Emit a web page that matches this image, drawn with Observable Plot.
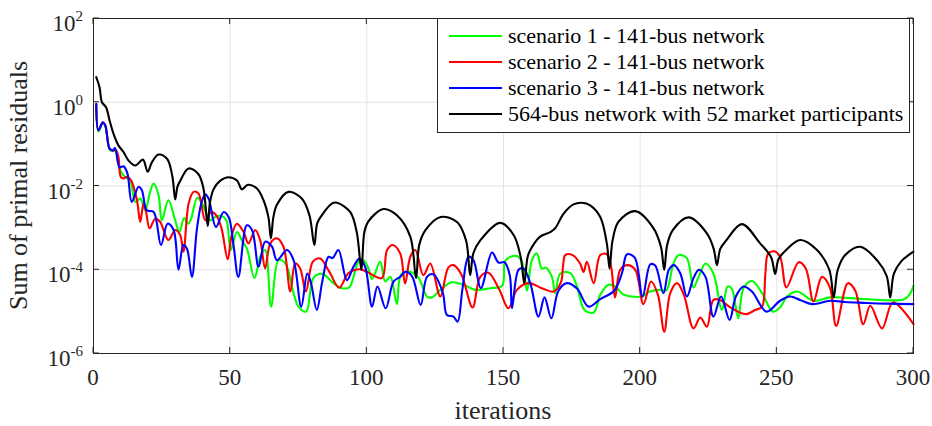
<!DOCTYPE html>
<html><head><meta charset="utf-8">
<script src="https://cdn.jsdelivr.net/npm/d3@7"></script>
<script src="https://cdn.jsdelivr.net/npm/@observablehq/plot@0.6"></script>
<style>body{margin:0;background:#fff} svg{display:block}</style>
</head><body><div id="chart"></div>
<script>
const seriesNames = ["scenario 1 - 141-bus network","scenario 2 - 141-bus network","scenario 3 - 141-bus network","564-bus network with 52 market participants"];
const seriesColors = ["#00ff00","#ff0000","#0000ff","#000000"];
const xTicks = [0,50,100,150,200,250,300];
const yTickExponents = [2,0,-2,-4,-6];
const xLabel = "iterations";
const yLabel = "Sum of primal residuals";

// [iteration, log10(sum of primal residuals)]
const scenario1_log10 = [[1,-0.04],[1.8,-0.7],[3.4,-0.5],[4.3,-0.57],[5.9,-1.13],[7.1,-1.17],[7.9,-1.15],[9.8,-1.63],[11.6,-1.79],[13.4,-1.86],[15.3,-2.38],[17.1,-2.3],[18.9,-2.58],[20.7,-2.14],[22,-1.94],[23.8,-2.22],[25,-2.82],[27.4,-2.34],[29.9,-2.82],[31.4,-3.1],[33.2,-2.76],[34.6,-2.9],[35.6,-2.8],[38,-2.28],[40,-2.45],[42.7,-2.82],[45,-2.72],[47.6,-2.74],[48.8,-2.85],[50.2,-3.53],[52.5,-3.1],[54.3,-3.3],[56.1,-3.49],[58.9,-4.2],[61,-3.69],[62.8,-3.53],[65,-4.88],[67.7,-3.77],[70.2,-3.85],[73.2,-4.56],[75,-4.88],[77.8,-5.0],[80.5,-4.19],[83.8,-4.1],[87.8,-4.32],[90.9,-4.44],[93.6,-4.42],[97,-3.8],[98.8,-3.77],[100.6,-3.97],[101.9,-4.22],[104.9,-3.81],[106.7,-4.28],[108.6,-4.17],[111,-4.82],[112.5,-4.12],[115.9,-4.05],[119,-4.2],[122,-4.64],[123.8,-4.66],[126.9,-4.48],[131.1,-4.3],[135.4,-4.36],[139.7,-4.48],[145.2,-4.44],[149.5,-4.38],[150.8,-3.77],[154.9,-3.67],[156.7,-3.81],[158.6,-4.5],[160.4,-3.77],[162.2,-3.61],[164,-3.97],[165.5,-3.95],[167.7,-4.17],[168.9,-4.56],[170.8,-4.09],[174.4,-4.08],[176.9,-4.4],[179.6,-4.96],[183,-5.02],[185.4,-4.6],[188.4,-4.36],[190.9,-4.4],[193.6,-4.58],[197,-4.64],[200.6,-4.64],[203.5,-4.52],[207.4,-4.48],[209.5,-4.5],[212.2,-3.85],[214.1,-3.65],[217.1,-3.73],[219.5,-4.42],[221.4,-4.17],[223.9,-3.85],[226.8,-4.09],[229.9,-4.96],[232,-4.4],[233.5,-4.45],[235.9,-5.16],[237.8,-4.44],[240.9,-4.27],[244.6,-4.56],[248.5,-5.0],[251.2,-4.9],[253.7,-4.64],[257.4,-4.52],[263.4,-4.74],[269.6,-4.66],[281.7,-4.7],[296.3,-4.71],[298.5,-4.6],[300,-4.38]];

const scenario2_log10 = [[1,-0.04],[1.8,-0.67],[3.4,-0.48],[4.3,-0.55],[5.9,-1.11],[7.1,-1.15],[8.2,-1.15],[9.1,-1.3],[10,-1.79],[11,-1.82],[12.2,-1.78],[13.7,-1.86],[15.9,-2.34],[17.1,-2.86],[18.3,-2.42],[19.2,-2.6],[20.5,-3.01],[22.6,-2.78],[24.4,-2.86],[27.4,-3.29],[29.9,-3.05],[31.7,-3.17],[32.9,-3.57],[34.8,-2.42],[36.6,-2.14],[38.4,-2.18],[40.9,-2.82],[43,-2.62],[44.9,-2.7],[46.8,-3.0],[49.1,-3.75],[50.6,-3.17],[52.5,-2.9],[54.9,-3.1],[56.7,-3.37],[59.2,-3.05],[61,-3.3],[62.8,-3.97],[64.7,-3.37],[67.1,-3.25],[69.5,-3.45],[72,-4.52],[73.8,-3.85],[75.6,-3.97],[77.7,-4.52],[80.3,-3.8],[82.9,-3.73],[86.3,-4.05],[89.9,-4.43],[93.3,-4.08],[97.6,-3.99],[100,-4.05],[105.5,-4.2],[107.4,-3.53],[109.5,-3.41],[112.2,-3.61],[114,-4.33],[115.9,-3.69],[117.7,-3.53],[120.7,-4.13],[123.2,-3.85],[126.9,-4.64],[129.8,-3.95],[131.7,-3.89],[134.5,-4.1],[138.7,-4.9],[141.5,-4.17],[144.5,-4.07],[148.5,-4.48],[151.8,-4.92],[154.9,-4.48],[159.2,-4.32],[164,-4.44],[168.3,-4.52],[171,-4.3],[171.8,-3.9],[172.6,-3.65],[175.3,-3.65],[178,-3.85],[179.3,-4.05],[180.5,-3.81],[183,-4.32],[185.4,-3.65],[187.8,-3.63],[189.3,-3.9],[190.8,-4.66],[192.7,-4.0],[195.2,-3.89],[198.2,-4.0],[201.2,-4.82],[204,-4.28],[206.5,-4.6],[208.8,-5.48],[211,-4.56],[213.5,-4.32],[216,-4.6],[219.5,-5.4],[222,-5.14],[224.4,-5.36],[226.8,-4.72],[229.3,-4.72],[233,-4.9],[238.6,-5.06],[242.1,-4.96],[244.6,-4.88],[245.8,-4.1],[246.8,-3.62],[249,-3.56],[251.2,-3.69],[253.5,-4.42],[258,-3.82],[260.6,-3.97],[263.4,-4.76],[266.5,-4.17],[269.4,-4.42],[271.7,-5.34],[276,-4.32],[278.7,-4.5],[281.6,-5.3],[284.2,-4.86],[288.5,-5.4],[292.5,-4.78],[300,-5.3]];

const scenario3_log10 = [[1,-0.04],[1.8,-0.67],[3.4,-0.48],[4.3,-0.55],[5.9,-1.11],[7.1,-1.15],[7.9,-1.09],[9.5,-1.55],[11,-1.53],[12.4,-1.7],[14,-2.38],[16.5,-2.02],[17.7,-2.1],[19.5,-2.58],[22,-2.62],[24.7,-3.41],[27.1,-2.9],[29.3,-3.05],[31.1,-4.0],[32.9,-3.41],[34.2,-3.5],[36,-4.17],[37.8,-3.05],[39.5,-2.4],[40.9,-2.2],[42.1,-2.3],[44.8,-2.98],[47.6,-2.62],[49.5,-2.75],[51.2,-3.4],[53,-4.17],[56.1,-2.94],[58,-3.05],[60.4,-3.93],[62.8,-3.33],[65.3,-3.45],[67.1,-3.77],[70.8,-3.53],[73.2,-3.77],[76,-4.88],[78.2,-4.09],[79.5,-4.3],[81.7,-4.96],[83.7,-4.28],[86,-3.69],[87.5,-3.72],[89.6,-3.53],[92.7,-4.25],[95.1,-3.93],[97.3,-3.73],[99.4,-3.93],[101.9,-4.88],[103.9,-4.4],[106.9,-4.92],[109.8,-4.28],[112.2,-4.17],[114,-4.05],[116.5,-4.15],[119.7,-4.84],[122,-4.17],[124.4,-4.11],[127.8,-4.55],[129.3,-5.08],[131.7,-5.12],[133.2,-5.24],[135,-4.45],[137.2,-3.69],[139,-3.77],[141.7,-4.44],[145.8,-3.59],[148.2,-3.83],[150.3,-3.82],[152.3,-4.13],[153.1,-4.92],[155.5,-4.0],[157.3,-3.97],[159.8,-4.32],[162.8,-5.12],[165,-4.66],[167.5,-5.16],[170.1,-4.5],[173.2,-4.32],[176.9,-4.45],[181.1,-4.88],[185.4,-4.7],[190.5,-4.5],[193.3,-4.09],[195.2,-3.63],[198,-3.71],[200.9,-4.64],[203.7,-3.87],[205.5,-3.9],[208.5,-4.56],[210.5,-4.0],[212.4,-3.89],[214.7,-4.09],[217.1,-4.64],[219.5,-4.2],[221.5,-4.0],[223.9,-4.17],[226.8,-5.12],[229.6,-4.64],[232.7,-5.2],[235,-4.64],[237.8,-4.4],[240.9,-4.52],[246.2,-5.0],[251.2,-4.74],[254.9,-4.64],[258.5,-4.72],[262.9,-4.82],[269.6,-4.74],[275,-4.77],[281.7,-4.79],[290,-4.81],[300,-4.82]];

const network564_log10 = [[1,0.6],[2.2,0.36],[3.1,0.0],[4.6,-0.12],[5.9,-0.44],[7.3,-0.75],[9.1,-1.03],[11,-1.19],[12.8,-1.39],[15.3,-1.51],[18.1,-1.37],[19.8,-1.66],[21.4,-1.43],[23.8,-1.25],[26.9,-1.35],[28.8,-1.75],[29.9,-2.32],[30.7,-2.02],[31.7,-1.88],[34.8,-1.58],[38.4,-1.72],[40.2,-2.05],[41.8,-2.96],[42.6,-2.4],[43.9,-2.08],[46.4,-1.87],[49.4,-1.79],[52.5,-1.87],[54.3,-2.08],[56.5,-1.97],[59.8,-2.06],[62.2,-2.34],[64.0,-2.75],[64.9,-3.25],[65.8,-2.75],[67.1,-2.45],[71.3,-2.14],[76.2,-2.3],[79.0,-2.7],[80.8,-3.41],[81.8,-2.9],[83,-2.75],[87.2,-2.42],[89.1,-2.4],[93.9,-2.62],[96.3,-3.1],[98.0,-4.0],[99.1,-3.1],[100.5,-2.85],[106.1,-2.55],[111,-2.7],[115.9,-3.21],[118,-4.2],[119.2,-3.4],[121.5,-3.05],[127,-2.74],[133,-2.86],[136.3,-3.3],[137.8,-4.13],[139.0,-3.6],[141.5,-3.3],[148.8,-2.88],[153.7,-3.17],[156.3,-3.7],[157.6,-4.32],[158.8,-3.7],[159.8,-3.53],[163.4,-3.21],[167.1,-3.1],[168.9,-3.01],[172,-2.66],[175.6,-2.44],[178.7,-2.4],[181.7,-2.46],[185.4,-2.74],[187.8,-3.37],[188.8,-3.97],[189.9,-3.3],[192.1,-2.85],[198.2,-2.6],[204.9,-3.01],[207.6,-3.45],[208.8,-4.0],[209.9,-3.4],[212,-3.05],[217.7,-2.75],[224.4,-3.13],[226.9,-3.5],[228.1,-3.89],[229.3,-3.5],[231.5,-3.3],[237.2,-2.91],[243.9,-3.37],[247.9,-3.7],[249.4,-4.1],[250.6,-3.75],[253.5,-3.52],[258.6,-3.29],[264.7,-3.53],[269.2,-4.0],[270.8,-4.66],[272.3,-4.0],[275,-3.65],[280.5,-3.45],[287,-3.8],[290.2,-4.15],[291.5,-4.66],[292.8,-4.1],[295.5,-3.8],[300,-3.57]];

const seriesData = [scenario1_log10, scenario2_log10, scenario3_log10, network564_log10];
const rows = seriesData.flatMap((arr, i) => arr.map(([it, lg]) => ({iter: it, value: Math.pow(10, lg), series: seriesNames[i]})));
const yTicks = yTickExponents.map(e => Math.pow(10, e));

const FONT = "'Liberation Serif', 'Times New Roman', serif";
const plot = Plot.plot({
  width: 932, height: 426,
  marginLeft: 93, marginRight: 19, marginTop: 18, marginBottom: 73,
  style: {fontFamily: FONT, background: "#fff"},
  x: {domain: [0, 300], axis: null},
  y: {type: "log", domain: [1e-6, 1e2], axis: null},
  color: {domain: seriesNames, range: seriesColors},
  marks: [
    Plot.gridX(xTicks, {stroke: "#e2e2e2", strokeOpacity: 1}),
    Plot.gridY(yTicks, {stroke: "#e2e2e2", strokeOpacity: 1}),
    Plot.line(rows, {x: "iter", y: "value", z: "series", stroke: "series", strokeWidth: 2.1, curve: "catmull-rom"}),
    Plot.frame({stroke: "#262626", strokeWidth: 1})
  ]
});
document.getElementById("chart").appendChild(plot);

const svg = d3.select(plot);
const xs = plot.scale("x"), ys = plot.scale("y");
const L = xs.apply(0), R = xs.apply(300), T = ys.apply(1e2), B = ys.apply(1e-6);
const g = svg.append("g").attr("font-family", FONT).attr("fill", "#262626");
const tk = 6;
for (const t of xTicks) {
  const px = xs.apply(t);
  g.append("line").attr("x1", px).attr("x2", px).attr("y1", B).attr("y2", B - tk).attr("stroke", "#262626");
  g.append("line").attr("x1", px).attr("x2", px).attr("y1", T).attr("y2", T + tk).attr("stroke", "#262626");
  g.append("text").attr("x", px).attr("y", B + 32).attr("text-anchor", "middle").attr("font-size", 23).text(t);
}
for (const e of yTickExponents) {
  const py = ys.apply(Math.pow(10, e));
  g.append("line").attr("x1", L).attr("x2", L + tk).attr("y1", py).attr("y2", py).attr("stroke", "#262626");
  g.append("line").attr("x1", R).attr("x2", R - tk).attr("y1", py).attr("y2", py).attr("stroke", "#262626");
  const tx = g.append("text").attr("x", L - 10).attr("y", py + 13).attr("text-anchor", "end").attr("font-size", 23);
  tx.append("tspan").text("10");
  tx.append("tspan").attr("dy", -10).attr("font-size", 15).text(String(e));
}
g.append("text").attr("x", (L + R) / 2).attr("y", 419).attr("text-anchor", "middle").attr("font-size", 26).text(xLabel);
g.append("text").attr("transform", `translate(27,${(T + B) / 2}) rotate(-90)`).attr("text-anchor", "middle").attr("font-size", 26).text(yLabel);

// legend
const lg = svg.append("g").attr("font-family", FONT).attr("text-anchor", "start");
lg.append("rect").attr("x", 437.5).attr("y", 18.5).attr("width", 472).attr("height", 114).attr("fill", "#fff").attr("stroke", "#262626");
seriesNames.forEach((name, i) => {
  const cy = 36 + i * 26;
  lg.append("line").attr("x1", 449).attr("x2", 502).attr("y1", cy).attr("y2", cy).attr("stroke", seriesColors[i]).attr("stroke-width", 2.1);
  lg.append("text").attr("x", 508).attr("y", cy + 7).attr("text-anchor", "start").attr("font-size", 22).attr("fill", "#000").text(name);
});
</script>
</body></html>
